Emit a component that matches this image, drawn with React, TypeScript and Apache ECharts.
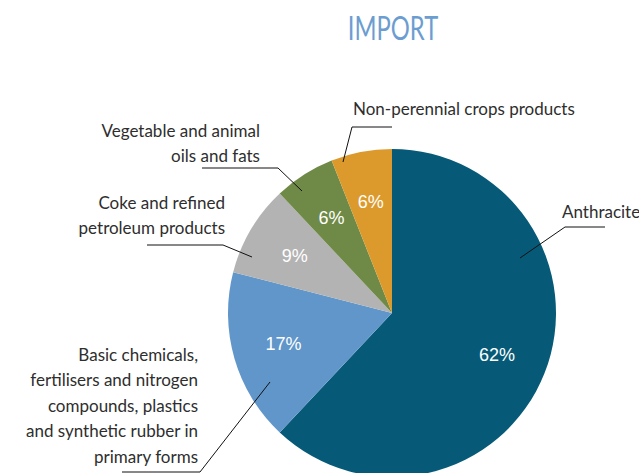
import React, { useEffect, useRef } from "react";
import * as echarts from "echarts";

// ---- data ----
const categories: string[] = [
  "Anthracite",
  "Basic chemicals,\nfertilisers and nitrogen\ncompounds, plastics\nand synthetic rubber in\nprimary forms",
  "Coke and refined\npetroleum products",
  "Vegetable and animal\noils and fats",
  "Non-perennial crops products",
];
const shares: number[] = [62, 17, 9, 6, 6];
const titleText = "IMPORT";

// ---- styles / layout ----
const sliceColors = ["#065a78", "#6096c9", "#b3b3b3", "#6f8a47", "#dc9a2c"];
const labelFont = "Lato, 'DejaVu Sans Condensed', sans-serif";
const titleFont = "Lato, sans-serif";
const pctFont = "'Liberation Sans', Arial, sans-serif";
const CX = 392;
const CY = 313;
const R = 164;
// label placement (text anchor + leader line) per slice
const labelPlacement = [
  { x: 562, y: 211, align: "left", line: [[520, 258], [565, 227], [605, 227]] },
  { x: 198, y: 405, align: "right", line: [[270, 382], [200, 472], [122, 472]] },
  { x: 225, y: 215, align: "right", line: [[252, 257], [223, 245], [147, 245]] },
  { x: 260, y: 143, align: "right", line: [[302, 191], [278, 168], [202, 168]] },
  { x: 353, y: 108, align: "left", line: [[343, 162], [352, 127], [392, 127]] },
];

export default function App() {
  const ref = useRef<HTMLDivElement>(null);
  useEffect(() => {
    if (!ref.current) return;
    const chart = echarts.init(ref.current, undefined, { renderer: "svg" });
    const base = {
      type: "pie",
      center: [CX, CY],
      startAngle: 90,
      clockwise: true,
      silent: true,
      avoidLabelOverlap: false,
      emphasis: { disabled: true },
    };
    chart.setOption({
      animation: false,
      backgroundColor: "#ffffff",
      graphic: [
        {
          type: "text",
          x: 393,
          y: 27,
          scaleX: 0.72,
          style: {
            text: titleText,
            x: 0,
            y: 0,
            textAlign: "center",
            textVerticalAlign: "middle",
            fontSize: 33,
            fontFamily: titleFont,
            fill: "#6c9dd0",
          },
        },
        ...labelPlacement.map((lp) => ({
          type: "polyline",
          z: 100,
          silent: true,
          shape: { points: lp.line },
          style: { stroke: "#111111", lineWidth: 1, fill: "none" },
        })),
      ],
      series: [
        {
          ...base,
          radius: R,
          itemStyle: { borderWidth: 0 },
          data: categories.map((name, i) => ({
            name,
            value: shares[i],
            itemStyle: { color: sliceColors[i] },
          })),
          label: { show: false },
          labelLine: { show: false },
        },
        {
          ...base,
          radius: [R * 0.34, R],
          data: categories.map((name, i) => ({ name, value: shares[i] })),
          itemStyle: { color: "rgba(0,0,0,0)" },
          label: {
            show: true,
            position: "inside",
            formatter: "{c}%",
            color: "#ffffff",
            fontFamily: pctFont,
            fontSize: 18,
          },
          labelLine: { show: false },
        },
        {
          ...base,
          radius: [R * 0.34, R],
          data: categories.map((name, i) => ({ name, value: shares[i] })),
          itemStyle: { color: "rgba(0,0,0,0)" },
          label: {
            show: true,
            position: "outside",
            formatter: "{b}",
            color: "#2e2e2e",
            fontFamily: labelFont,
            fontSize: 17,
            lineHeight: 25.5,
          },
          labelLine: { show: false },
          labelLayout: (p: any) => {
            const lp = labelPlacement[p.dataIndex];
            return {
              x: lp.x,
              y: lp.y,
              align: lp.align,
              verticalAlign: "middle",
            };
          },
        },
      ],
    });
    return () => chart.dispose();
  }, []);
  return (
    <div
      ref={ref}
      style={{ position: "fixed", left: 0, top: 0, width: 639, height: 473 }}
    />
  );
}
